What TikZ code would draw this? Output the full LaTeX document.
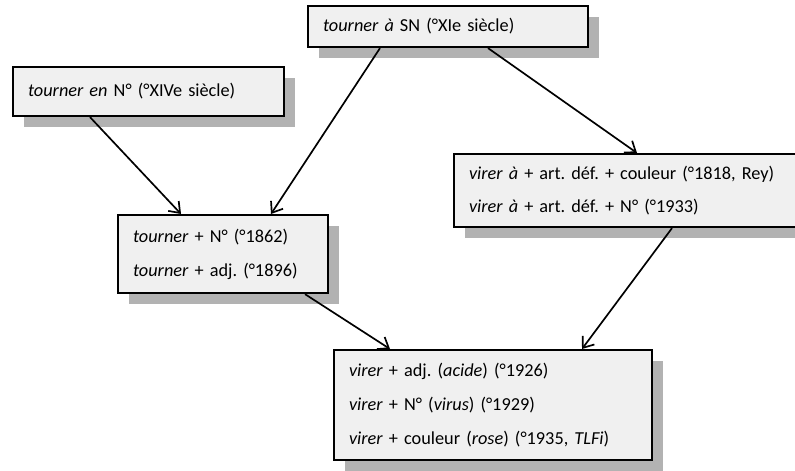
\documentclass[tikz,border=0pt]{standalone}
\usepackage{fontspec}
\setmainfont{Carlito}
\usetikzlibrary{arrows.meta, calc, shadows}

\definecolor{boxfill}{gray}{0.94}
\definecolor{shadowgray}{gray}{0.70}
\frenchspacing

\begin{document}
\begin{tikzpicture}[x=0.025cm, y=-0.025cm,
		entry/.style={rectangle, draw, line width=1.5pt, fill=boxfill, anchor=north west,
			align=left, inner xsep=0.375cm, inner ysep=0pt, font=\fontsize{13}{24}\selectfont,
			drop shadow={shadow xshift=0.275cm, shadow yshift=-0.275cm, opacity=1, fill=shadowgray}},
		link/.style={line width=1.2pt, -{Straight Barb[length=2.4mm, width=3.6mm, line width=1.2pt]}}]
		\path[use as bounding box, clip] (0, 0) rectangle (795, 471);
		\node[entry, text width=6.25cm, minimum height=1.025cm] (xie) at (307, 5)
			{\textit{tourner à} SN (°XIe siècle)};
		\node[entry, text width=6.025cm, minimum height=1.225cm] (xive) at (12, 66)
			{\textit{tourner en} N° (°XIVe siècle)};
		\node[entry, text width=8.05cm, minimum height=1.825cm] (vira) at (453, 153)
			{\textit{virer à} + art. déf. + couleur (°1818, Rey)\\
			 \textit{virer à} + art. déf. + N° (°1933)};
		\node[entry, text width=4.5cm, minimum height=1.95cm] (tour) at (117, 214)
			{\textit{tourner} + N° (°1862)\\
			 \textit{tourner} + adj. (°1896)};
		\node[entry, text width=7.2cm, minimum height=2.75cm] (vir) at (333, 349)
			{\textit{virer} + adj. (\textit{acide}) (°1926)\\
			 \textit{virer} + N° (\textit{virus}) (°1929)\\
			 \textit{virer} + couleur (\textit{rose}) (°1935, \textit{TLFi})};
		\draw[link] ($(xive.south west)+(78, 0)$) -- ($(tour.north west)+(64, 0)$);
		\draw[link] ($(xie.south west)+(73, 0)$) -- ($(tour.north west)+(154, 0)$);
		\draw[link] ($(xie.south west)+(181, 0)$) -- ($(vira.north west)+(184, 0)$);
		\draw[link] ($(tour.south west)+(188, 0)$) -- ($(vir.north west)+(57, 0)$);
		\draw[link] ($(vira.south west)+(219, 0)$) -- ($(vir.north west)+(249, 0)$);
	\end{tikzpicture}
\end{document}
